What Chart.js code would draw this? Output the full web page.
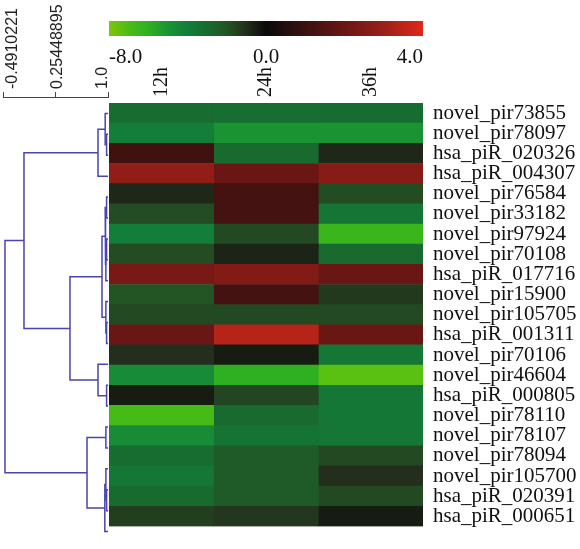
<!DOCTYPE html>
<html>
<head>
<meta charset="utf-8">
<script src="https://cdn.jsdelivr.net/npm/chart.js@4.4.0/dist/chart.umd.min.js"></script>
<style>
  html, body { margin: 0; padding: 0; background: #fff; }
  #wrap { position: relative; width: 580px; height: 549px; }
  #wrap canvas { position: absolute; left: 0; top: 0; }
</style>
</head>
<body>
<div id="wrap">
  <canvas id="heat" width="580" height="549"></canvas>
  <canvas id="bar" width="580" height="70"></canvas>
  <canvas id="tree" width="112" height="549"></canvas>
</div>
<script>
const rowLabels = [
  'novel_pir73855', 'novel_pir78097', 'hsa_piR_020326', 'hsa_piR_004307',
  'novel_pir76584', 'novel_pir33182', 'novel_pir97924', 'novel_pir70108',
  'hsa_piR_017716', 'novel_pir15900', 'novel_pir105705', 'hsa_piR_001311',
  'novel_pir70106', 'novel_pir46604', 'hsa_piR_000805', 'novel_pir78110',
  'novel_pir78107', 'novel_pir78094', 'novel_pir105700', 'hsa_piR_020391',
  'hsa_piR_000651'
];
const timeLabels = ['12h', '24h', '36h'];

// log2 fold change
const expr12h = [-3.0, -4.0, 1.1, 2.8, -0.8, -1.8, -4.0, -1.8, 2.3, -2.0, -1.7,
                 2.0, -1.0, -4.6, -0.5, -6.8, -4.6, -3.0, -3.6, -2.9, -1.4];
const expr24h = [-3.1, -5.0, -2.9, 2.0, 1.2, 1.2, -1.7, -0.7, 2.5, 1.2, -1.7,
                 3.4, -0.5, -6.0, -1.6, -2.9, -3.4, -2.3, -2.3, -2.3, -1.2];
const expr36h = [-3.0, -5.0, -0.8, 2.6, -1.8, -3.5, -6.4, -2.9, 2.0, -1.3, -1.7,
                 2.0, -3.6, -7.3, -3.6, -3.6, -3.6, -1.7, -1.0, -1.7, -0.5];

const colorbarTicks = [-8, 0, 4];
const treeTickLabels = ['-0.4910221', '0.25448895', '1.0'];

// dendrogram merges [left, right, height]; new nodes numbered from 21
const merges = [
  [1, 2, 0.98], [0, 21, 0.96], [22, 3, 0.858],
  [4, 5, 0.98], [6, 7, 0.98], [25, 8, 0.97], [24, 26, 0.96],
  [10, 11, 0.98], [9, 28, 0.97], [27, 29, 0.915],
  [13, 14, 0.98], [12, 31, 0.858], [30, 32, 0.46], [23, 33, -0.193],
  [15, 16, 0.97], [18, 19, 0.98], [17, 36, 0.97], [37, 20, 0.955],
  [35, 38, 0.702], [34, 39, -0.463]
];

// colour map
const cmapStops = [-8, -7, -6, -5, -4, -3, -2, -1, 0, 1, 2, 3, 4];
const cmapColors = ['#7cc80a', '#4cbc14', '#2eb020', '#1a9432', '#127e3a', '#176c30',
                    '#235424', '#232e1c', '#0a0a0a', '#3a1210', '#6a1614', '#9a2018', '#e0281a'];

function hexRgb(h) {
  return [1, 3, 5].map(i => parseInt(h.substr(i, 2), 16));
}
function colorFor(v) {
  v = Math.max(cmapStops[0], Math.min(cmapStops[cmapStops.length - 1], v));
  let i = 0;
  while (i < cmapStops.length - 2 && v > cmapStops[i + 1]) i++;
  const t = (v - cmapStops[i]) / (cmapStops[i + 1] - cmapStops[i]);
  const a = hexRgb(cmapColors[i]), b = hexRgb(cmapColors[i + 1]);
  const c = a.map((x, k) => Math.round(x + (b[k] - x) * t));
  return 'rgb(' + c.join(',') + ')';
}

const font = 'Liberation Serif';
const noPlugins = { legend: { display: false }, tooltip: { enabled: false } };
// stop chart.js from reserving room for overflowing end labels
const noOverflow = s => { s.paddingLeft = 0; s.paddingRight = 0; };

// Heatmap
const columns = [expr12h, expr24h, expr36h];
new Chart(document.getElementById('heat'), {
  type: 'bar',
  data: {
    labels: rowLabels,
    datasets: columns.map((vals, c) => ({
      label: timeLabels[c],
      data: vals.map(() => [c, c + 1]),
      backgroundColor: vals.map(colorFor),
      grouped: false,
      barPercentage: 1,
      categoryPercentage: 1,
      borderWidth: 0
    }))
  },
  options: {
    indexAxis: 'y',
    responsive: false,
    animation: false,
    layout: { padding: { left: 109, top: 0, right: 0, bottom: 7 } },
    plugins: noPlugins,
    scales: {
      x: {
        type: 'linear',
        position: 'top',
        min: 0,
        max: timeLabels.length,
        afterBuildTicks: s => { s.ticks = timeLabels.map((t, i) => ({ value: i + 0.5 })); },
        afterFit: s => { s.height = 103; noOverflow(s); },
        grid: { display: false, drawTicks: false },
        border: { display: false },
        ticks: {
          callback: (v, i) => timeLabels[i],
          // rotated top labels get pushed left by one line height
          minRotation: 90, maxRotation: 90, autoSkip: false, padding: 6, labelOffset: 24,
          font: { family: font, size: 20, lineHeight: 1.2 }, color: '#111'
        }
      },
      y: {
        position: 'right',
        afterFit: s => { s.width = 157; },
        grid: { display: false, drawTicks: false },
        border: { display: false },
        ticks: { autoSkip: false, padding: 10, font: { family: font, size: 21 }, color: '#111' }
      }
    }
  }
});

// Colour bar: -8..0 fills the left half, 0..4 the right half
const cbMin = colorbarTicks[0], cbMax = colorbarTicks[colorbarTicks.length - 1];
function barPos(v) { return v < 0 ? (v - cbMin) / (0 - cbMin) : 1 + v / cbMax; }

new Chart(document.getElementById('bar'), {
  type: 'bar',
  data: {
    labels: ['scale'],
    datasets: [{
      data: [[0, 2]],
      barPercentage: 1,
      categoryPercentage: 1,
      borderWidth: 0,
      backgroundColor: ctx => {
        const area = ctx.chart.chartArea;
        if (!area) return '#000';
        const g = ctx.chart.ctx.createLinearGradient(area.left, 0, area.right, 0);
        cmapStops.forEach((v, i) => g.addColorStop(barPos(v) / 2, cmapColors[i]));
        return g;
      }
    }]
  },
  options: {
    indexAxis: 'y',
    responsive: false,
    animation: false,
    layout: { padding: { left: 109, right: 157, top: 21, bottom: 0 } },
    plugins: noPlugins,
    scales: {
      x: {
        type: 'linear',
        position: 'bottom',
        min: 0,
        max: 2,
        afterBuildTicks: s => { s.ticks = colorbarTicks.map(v => ({ value: barPos(v) })); },
        afterFit: s => { s.height = 34; noOverflow(s); },
        grid: { display: false, drawTicks: false },
        border: { display: false },
        ticks: {
          callback: (v, i) => colorbarTicks[i].toFixed(1),
          align: 'inner', maxRotation: 0, padding: 9,
          font: { family: font, size: 21 }, color: '#111'
        }
      },
      y: { display: false }
    }
  }
});

// Dendrogram
const nLeaf = rowLabels.length;
const treeTicks = treeTickLabels.map(parseFloat);
const treeMin = treeTicks[0], treeMax = treeTicks[treeTicks.length - 1];
const nodeY = rowLabels.map((r, i) => i);
const nodeH = rowLabels.map(() => treeMax);
const treeSegments = merges.map(([a, b, h]) => {
  nodeY.push((nodeY[a] + nodeY[b]) / 2);
  nodeH.push(h);
  return [
    { x: nodeH[a], y: nodeY[a] }, { x: h, y: nodeY[a] },
    { x: h, y: nodeY[b] }, { x: nodeH[b], y: nodeY[b] }
  ];
});
const treeTopGap = 6 * nLeaf / 439;
const treeWidth = 105;
const treeLabelNudge = [10, 2, -5]; // px, keeps the end labels inside the bracket
const treeLabelAt = treeTicks.map((v, i) => v + treeLabelNudge[i] * (treeMax - treeMin) / treeWidth);

new Chart(document.getElementById('tree'), {
  type: 'scatter',
  data: {
    datasets: treeSegments.map(pts => ({
      data: pts, showLine: true, borderColor: '#4a44ae', borderWidth: 1.5,
      pointRadius: 0, fill: false, clip: 3
    }))
  },
  options: {
    responsive: false,
    animation: false,
    layout: { padding: { left: 3, right: 4, top: 0, bottom: 7 } },
    plugins: noPlugins,
    scales: {
      x: {
        type: 'linear', position: 'top', min: treeMin, max: treeMax, weight: 0,
        afterBuildTicks: s => { s.ticks = treeTicks.map(v => ({ value: v })); },
        afterFit: s => { s.height = 5; noOverflow(s); },
        grid: { drawOnChartArea: false, drawTicks: true, tickLength: 5, color: '#444', lineWidth: 1 },
        border: { display: true, color: '#444', width: 1 },
        ticks: { display: false }
      },
      x2: {
        type: 'linear', position: 'top', min: treeMin, max: treeMax, weight: 1,
        afterBuildTicks: s => { s.ticks = treeLabelAt.map(v => ({ value: v })); },
        afterFit: s => { s.height = 92; noOverflow(s); },
        grid: { display: false, drawTicks: false },
        border: { display: false },
        ticks: {
          callback: (v, i) => treeTickLabels[i],
          minRotation: 90, maxRotation: 90, autoSkip: false, padding: 3, labelOffset: 19,
          font: { family: 'Liberation Sans', size: 16, lineHeight: 1.2 }, color: '#222'
        }
      },
      y: {
        type: 'linear', reverse: true, display: false,
        min: -0.5 - treeTopGap, max: nLeaf - 0.5
      }
    }
  }
});
</script>
</body>
</html>
